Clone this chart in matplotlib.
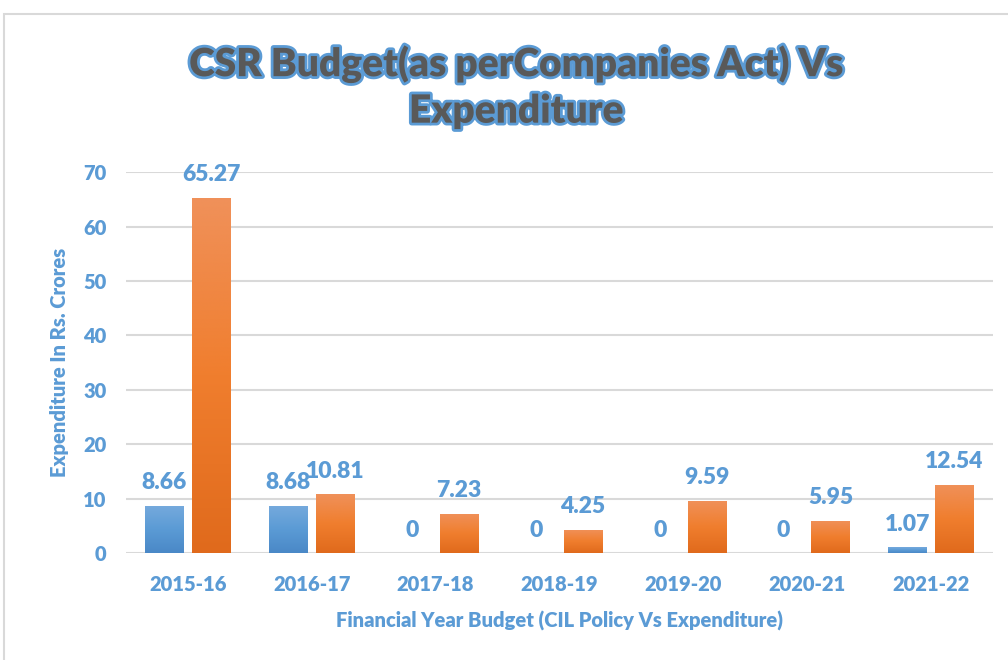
import matplotlib.pyplot as plt
import matplotlib.patheffects as pe
from matplotlib.patches import Rectangle
from matplotlib.colors import LinearSegmentedColormap
import numpy as np

years = ["2015-16", "2016-17", "2017-18", "2018-19", "2019-20", "2020-21", "2021-22"]
budget = [8.66, 8.68, 0, 0, 0, 0, 1.07]
expenditure = [65.27, 10.81, 7.23, 4.25, 9.59, 5.95, 12.54]
y_ticks = [0, 10, 20, 30, 40, 50, 60, 70]

BLUE = "#5B9BD5"
ORANGE = "#ED7D31"
LABEL_BLUE = "#5B9BD5"
plt.rcParams['font.family'] = ['Lato', 'DejaVu Sans']
WT = "heavy"

fig = plt.figure(figsize=(10.08, 6.6), dpi=100)
ax = fig.add_axes([0.125, 0.162, 0.86, 0.577])

# chart frame
fig.patches.append(Rectangle((4 / 1008, -0.05), 1.1, 1 - 14 / 660 + 0.05,
                             transform=fig.transFigure, fill=False,
                             edgecolor="#D9D9D9", linewidth=1.5))

x = np.arange(len(years))
w = 0.31
off = 0.19
b1 = ax.bar(x - off, budget, w, color=BLUE, zorder=3)
b2 = ax.bar(x + off, expenditure, w, color=ORANGE, zorder=3)

# vertical gradient fill, lighter at the top like the office style
grad = np.linspace(1, 0, 256).reshape(-1, 1)
cmaps = {
    id(b1): LinearSegmentedColormap.from_list("b", ["#4A88C7", "#5B9BD5", "#76AADD"]),
    id(b2): LinearSegmentedColormap.from_list("o", ["#E06A1C", "#F07E2E", "#F0915A"]),
}
for bars in (b1, b2):
    for rect in bars:
        h = rect.get_height()
        if h <= 0:
            continue
        x0 = rect.get_x()
        im = ax.imshow(grad, cmap=cmaps[id(bars)], aspect="auto", zorder=4,
                       extent=(x0, x0 + rect.get_width(), 0, h),
                       interpolation="bicubic")
        im.set_clip_path(rect)

for bars, vals in ((b1, budget), (b2, expenditure)):
    for rect, v in zip(bars, vals):
        ax.annotate(f"{v:g}", (rect.get_x() + rect.get_width() / 2, v),
                    xytext=(0, 9), textcoords="offset points",
                    ha="center", va="bottom", fontsize=16.5,
                    fontweight=WT, color=LABEL_BLUE)

ax.set_xlim(-0.5, len(years) - 0.5)
ax.set_ylim(0, 70)
ax.set_yticks(y_ticks)
ax.set_xticks(x)
ax.set_xticklabels(years)
ax.tick_params(length=0, labelsize=14.5, labelcolor=LABEL_BLUE)
ax.tick_params(axis="x", pad=16)
ax.tick_params(axis="y", pad=14)
for lbl in ax.get_xticklabels() + ax.get_yticklabels():
    lbl.set_fontweight(WT)
ax.yaxis.grid(True, color="#D9D9D9", linewidth=1.5, zorder=0)
ax.set_axisbelow(True)
for s in ax.spines.values():
    s.set_visible(False)

ax.set_ylabel("Expenditure In Rs. Crores", fontsize=14.5, fontweight=WT,
              color=LABEL_BLUE, labelpad=10)
ax.set_xlabel("Financial Year Budget (CIL Policy Vs Expenditure)", fontsize=14.5,
              fontweight=WT, color=LABEL_BLUE, labelpad=12)

fig.text(0.512, 0.868, "CSR Budget(as perCompanies Act) Vs\nExpenditure",
         ha="center", va="center", fontsize=28, fontweight=WT,
         color="#595959", linespacing=1.3,
         path_effects=[pe.Stroke(linewidth=4, foreground=BLUE), pe.Normal()])

fig.savefig("out.png", dpi=100)
